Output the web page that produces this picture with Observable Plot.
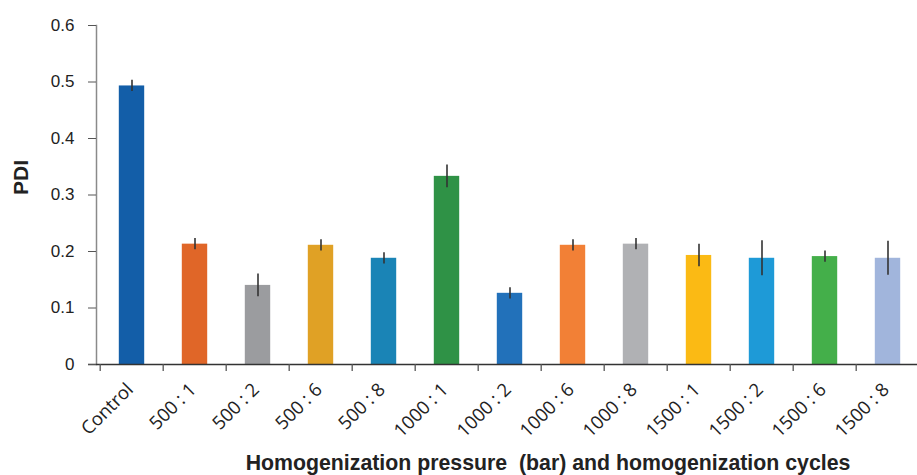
<!DOCTYPE html>
<html>
<head>
<meta charset="utf-8">
<script src="https://cdn.jsdelivr.net/npm/d3@7"></script>
<script src="https://cdn.jsdelivr.net/npm/@observablehq/plot@0.6"></script>
<style>
  html, body { margin: 0; padding: 0; background: #fff; }
  #chart svg { display: block; }
</style>
</head>
<body>
<div id="chart"></div>
<script>
const categories = ["Control", "500 : 1", "500 : 2", "500 : 6", "500 : 8", "1000 : 1", "1000 : 2", "1000 : 6", "1000 : 8", "1500 : 1", "1500 : 2", "1500 : 6", "1500 : 8"];
const pdi = [0.493, 0.213, 0.140, 0.211, 0.188, 0.333, 0.126, 0.211, 0.213, 0.193, 0.188, 0.191, 0.188];
const errors = [0.010, 0.010, 0.020, 0.010, 0.010, 0.020, 0.010, 0.010, 0.010, 0.020, 0.031, 0.010, 0.030];
const colors = ["#135EA8", "#E06628", "#9B9C9F", "#E0A125", "#1A84B6", "#2F9246", "#2271BA", "#F28036", "#B0B1B4", "#FBBA14", "#1E9AD7", "#44AF4A", "#A1B5DC"];
const yTicks = [0, 0.1, 0.2, 0.3, 0.4, 0.5, 0.6];
const yTickLabels = ["0", "0.1", "0.2", "0.3", "0.4", "0.5", "0.6"];
const yLabel = "PDI";
const xLabel = "Homogenization pressure\u00A0 (bar) and homogenization cycles";

const data = categories.map((c, i) => ({cat: c, value: pdi[i], err: errors[i], color: colors[i]}));
const yTickData = yTicks.map((v, i) => ({v, label: yTickLabels[i]}));

const W = 917, H = 475;
const mL = 96, mR = -6, mT = 25, mB = 111;
const step = (W - mL - mR) / categories.length;

const chart = Plot.plot({
  width: W,
  height: H,
  marginLeft: mL,
  marginRight: mR,
  marginTop: mT,
  marginBottom: mB,
  style: {fontFamily: "'Liberation Sans', Arial, sans-serif", fontSize: "15px", color: "#222", background: "#fff", overflow: "visible"},
  x: {domain: categories, padding: 0, label: null, axis: null},
  y: {domain: [0, 0.6], label: null, axis: null},
  marks: [
    Plot.barY(data, {x: "cat", y: "value", fill: "color", insetLeft: 18.8, insetRight: 18.8}),
    Plot.ruleX(data, {x: "cat", y1: d => d.value - d.err, y2: d => d.value + d.err, stroke: "#333", strokeWidth: 1.6}),
    Plot.frame({anchor: "left", stroke: "#8a8a8a", strokeWidth: 1.5}),
    Plot.ruleY([0], {stroke: "#333", strokeWidth: 1.5, insetLeft: -8}),
    Plot.axisY({ticks: yTicks, tickSize: 8, stroke: "#555", tickFormat: () => ""}),
    Plot.text(yTickData, {y: "v", text: "label", frameAnchor: "left", textAnchor: "end", dx: -22, fontSize: 17, fontFamily: "'Liberation Sans', Arial, sans-serif", fill: "#222"}),
    Plot.ruleX(categories, {x: d => d, y1: 0, y2: 0, insetBottom: -7, dx: -step / 2, stroke: "#555", strokeWidth: 1.3}),
    Plot.text(categories, {x: d => d, frameAnchor: "bottom", rotate: -45, textAnchor: "end", lineAnchor: "middle", dx: -2, dy: 22, fontSize: 18.5, fontFamily: "'Open Sans', sans-serif", fill: "#222"}),
    Plot.text([yLabel], {frameAnchor: "left", rotate: -90, dx: -75, fontSize: 21, fontWeight: "bold", fontFamily: "'Liberation Sans', Arial, sans-serif", fill: "#222"}),
    Plot.text([xLabel], {frameAnchor: "bottom", lineAnchor: "bottom", dx: 38, dy: 105, fontSize: 21.3, fontWeight: "bold", fontFamily: "'Liberation Sans', Arial, sans-serif", fill: "#222"})
  ]
});
document.getElementById("chart").appendChild(chart);
</script>
</body>
</html>
